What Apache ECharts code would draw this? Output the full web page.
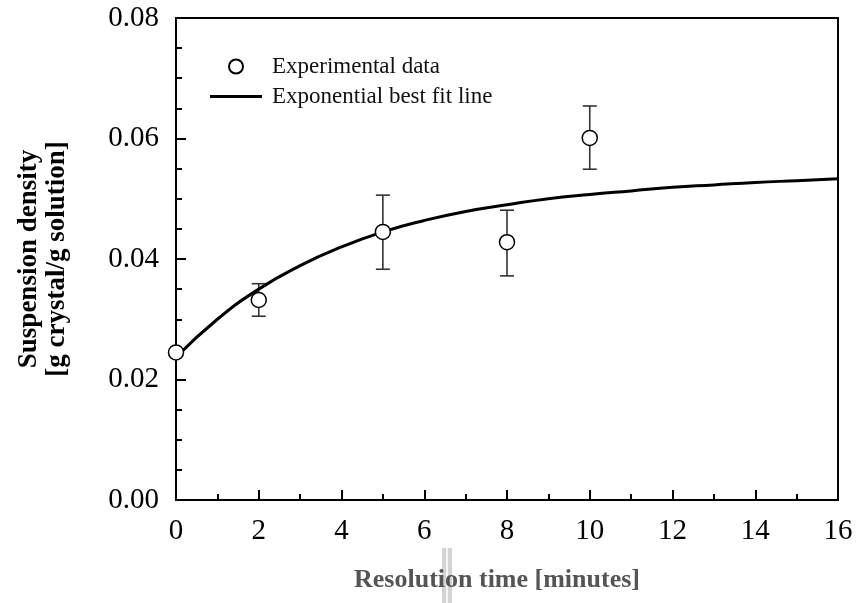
<!DOCTYPE html>
<html>
<head>
<meta charset="utf-8">
<script src="https://cdn.jsdelivr.net/npm/echarts@6/dist/echarts.min.js"></script>
<style>
  html, body { margin: 0; padding: 0; background: #fff; }
  #chart { width: 862px; height: 603px; }
</style>
</head>
<body>
<div id="chart"></div>
<script>
// measured points (time, density) and error bar limits
const expTime = [0, 2, 5, 8, 10]
const expDensity = [0.0245, 0.0332, 0.0445, 0.0428, 0.0601]
const errLow = [null, 0.0305, 0.0383, 0.0372, 0.0549]
const errHigh = [null, 0.0359, 0.0506, 0.0481, 0.0654]

// best fit curve
const fitTime = [0, 1, 2, 3, 4, 5, 6, 7, 8, 9, 10, 11, 12, 13, 14, 15, 16]
const fitDensity = [0.0237, 0.0300, 0.0350, 0.0389, 0.0420, 0.0445, 0.0464, 0.0479, 0.0490,
  0.0500, 0.0507, 0.0513, 0.0519, 0.0523, 0.0527, 0.0530, 0.0533]

const xTicks = { min: 0, max: 16, interval: 2 }
const yTicks = { min: 0, max: 0.08, interval: 0.02 }

const serif = '"Liberation Serif", "DejaVu Serif", serif'

const chart = echarts.init(document.getElementById('chart'))

const errData = []
expTime.forEach((t, i) => {
  if (errLow[i] !== null) errData.push([t, errLow[i], errHigh[i]])
})

const option = {
  animation: false,
  backgroundColor: '#fff',
  grid: {
    left: 176, right: 24, top: 18, bottom: 103,
    show: true, borderColor: '#000', borderWidth: 2, backgroundColor: 'transparent'
  },
  legend: {
    orient: 'vertical',
    left: 205, top: 50,
    itemWidth: 52, itemHeight: 14, itemGap: 7,
    textStyle: { fontFamily: serif, fontSize: 23, color: '#111', padding: [0, 0, 0, 5] },
    data: [
      { name: 'Experimental data', icon: 'circle' },
      { name: 'Exponential best fit line', icon: 'path://M0,0L52,0L52,3L0,3Z', itemStyle: { color: '#000', borderWidth: 0 } }
    ]
  },
  xAxis: {
    type: 'value',
    min: xTicks.min, max: xTicks.max, interval: xTicks.interval,
    name: 'Resolution time [minutes]',
    nameLocation: 'middle',
    nameGap: 67,
    nameTextStyle: { fontFamily: serif, fontSize: 26, fontWeight: 'bold', color: '#555', padding: [0, 20, 0, 0] },
    axisLine: { show: true, lineStyle: { color: '#000', width: 2 } },
    axisTick: { show: true, inside: true, length: 10, lineStyle: { color: '#000', width: 2 } },
    minorTick: { show: true, splitNumber: 2, length: 6, lineStyle: { color: '#000', width: 2 } },
    axisLabel: { fontFamily: serif, fontSize: 29, color: '#000', margin: 17 },
    splitLine: { show: false }
  },
  yAxis: {
    type: 'value',
    min: yTicks.min, max: yTicks.max, interval: yTicks.interval,
    name: 'Suspension density\n[g crystal/g solution]',
    nameLocation: 'middle',
    nameGap: 105,
    nameTextStyle: { fontFamily: serif, fontSize: 27, fontWeight: 'bold', color: '#000', lineHeight: 28 },
    axisLine: { show: true, lineStyle: { color: '#000', width: 2 } },
    axisTick: { show: true, inside: true, length: 10, lineStyle: { color: '#000', width: 2 } },
    minorTick: { show: true, splitNumber: 4, length: 6, lineStyle: { color: '#000', width: 2 } },
    axisLabel: { fontFamily: serif, fontSize: 29, color: '#000', margin: 17, formatter: v => v.toFixed(2) },
    splitLine: { show: false }
  },
  graphic: [
    { type: 'rect', z: -10, shape: { x: 442, y: 548, width: 10, height: 55 }, style: { fill: '#d4d4d4' } },
    { type: 'rect', z: -9, shape: { x: 446, y: 548, width: 2, height: 55 }, style: { fill: '#f4f4f4' } }
  ],
  series: [
    {
      name: 'Exponential best fit line',
      type: 'line',
      smooth: true,
      symbol: 'none',
      showSymbol: false,
      data: fitTime.map((t, i) => [t, fitDensity[i]]),
      lineStyle: { color: '#000', width: 3 },
      itemStyle: { color: '#000' },
      z: 3
    },
    {
      name: 'errors',
      type: 'custom',
      data: errData,
      renderItem: (params, api) => {
        const lo = api.coord([api.value(0), api.value(1)])
        const hi = api.coord([api.value(0), api.value(2)])
        const cap = 7
        const style = { stroke: '#333', lineWidth: 1.6 }
        return {
          type: 'group',
          children: [
            { type: 'line', shape: { x1: lo[0], y1: lo[1], x2: hi[0], y2: hi[1] }, style },
            { type: 'line', shape: { x1: lo[0] - cap, y1: lo[1], x2: lo[0] + cap, y2: lo[1] }, style },
            { type: 'line', shape: { x1: hi[0] - cap, y1: hi[1], x2: hi[0] + cap, y2: hi[1] }, style }
          ]
        }
      },
      z: 2
    },
    {
      name: 'Experimental data',
      type: 'scatter',
      symbol: 'circle',
      symbolSize: 15,
      data: expTime.map((t, i) => [t, expDensity[i]]),
      itemStyle: { color: '#fff', borderColor: '#000', borderWidth: 1.5, opacity: 1 },
      z: 4
    }
  ]
}

chart.setOption(option)
</script>
</body>
</html>
